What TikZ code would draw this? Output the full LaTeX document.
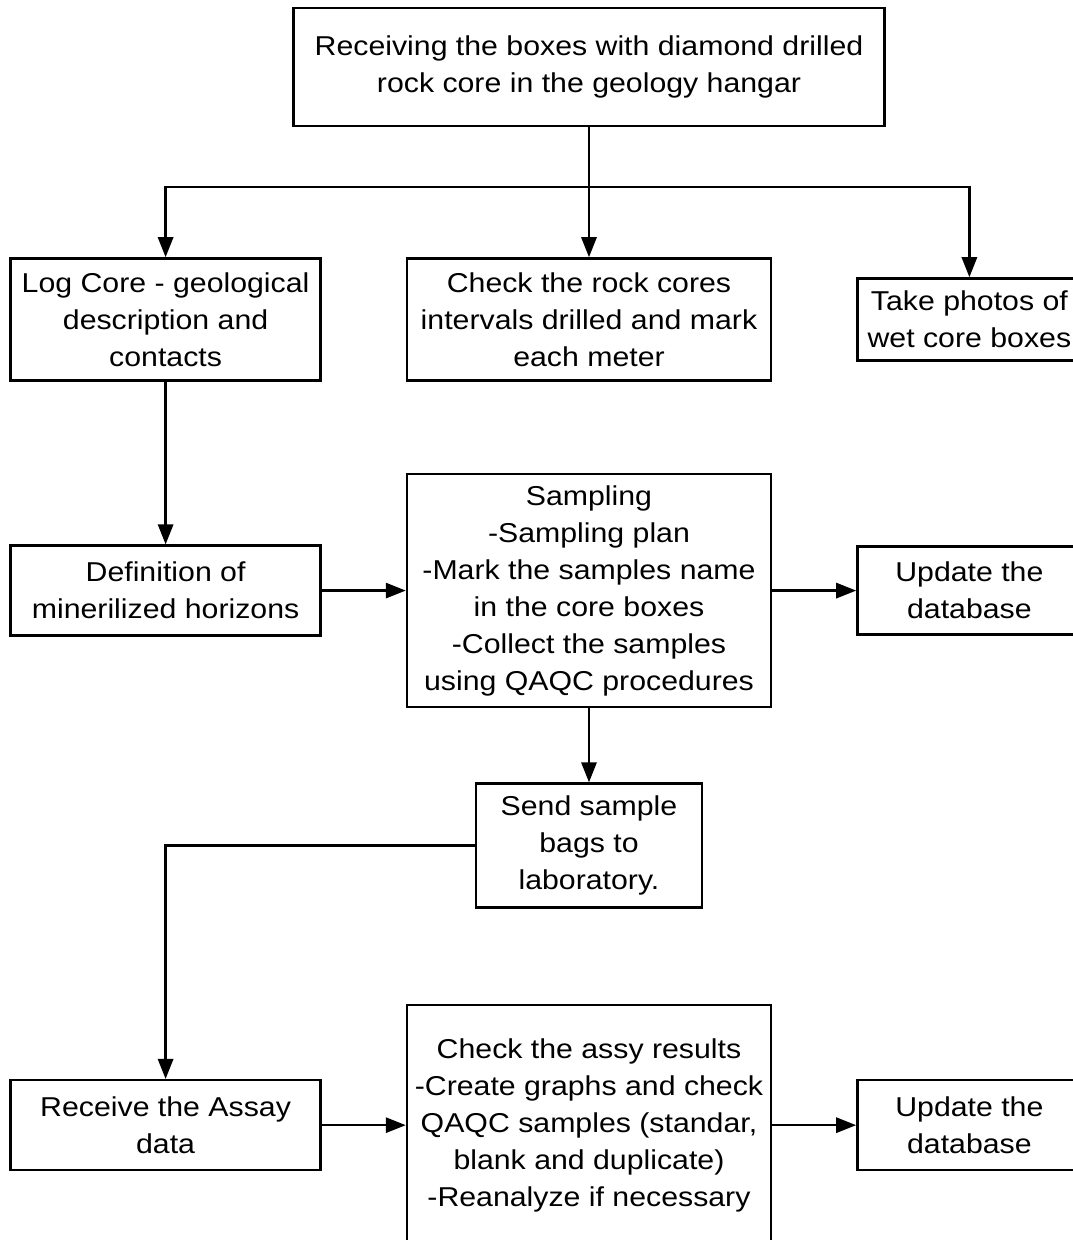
\documentclass[tikz,border=0pt]{standalone}
\usepackage{fontspec}
\setmainfont{Liberation Sans}[FakeStretch=1.11]
\usetikzlibrary{positioning, arrows.meta}

\begin{document}
\begin{tikzpicture}[
    node distance=2.1cm,
    box/.style={draw, line width=1.7pt, minimum width=9.1cm, minimum height=3.05cm, align=center, font=\fontsize{19.4pt}{26.3pt}\selectfont},
    arr/.style={-{Triangle[length=0.5cm,width=0.38cm]}, line width=1.7pt}]
    \useasboundingbox (-14.725,1.675) rectangle (12.1,-29.325);
    \node[box, minimum width=14.78cm, minimum height=2.95cm] (recv) {Receiving the boxes with diamond drilled\\rock core in the geology hangar};
    \node[box, below=3.25cm of recv]                           (chk)   {Check the rock cores\\intervals drilled and mark\\each meter};
    \node[box, left=of chk, minimum width=7.75cm]              (logc)  {Log Core - geological\\description and\\contacts};
    \node[box, right=of chk, minimum width=5.6cm, minimum height=2.05cm] (photo) {Take photos of\\wet core boxes};
    \node[box, below=2.28cm of chk, minimum height=5.83cm]     (samp)  {Sampling\\-Sampling plan\\-Mark the samples name\\in the core boxes\\-Collect the samples\\using QAQC procedures};
    \node[box, left=of samp, minimum width=7.75cm, minimum height=2.25cm]  (defn) {Definition of\\minerilized horizons};
    \node[box, right=of samp, minimum width=5.6cm, minimum height=2.2cm]   (upd1) {Update the\\database};
    \node[box, below=1.85cm of samp, minimum width=5.65cm, minimum height=3.1cm] (send) {Send sample\\bags to\\laboratory.};
    \node[box, below=2.38cm of send, minimum height=6cm]       (assay) {Check the assy results\\-Create graphs and check\\QAQC samples (standar,\\blank and duplicate)\\-Reanalyze if necessary};
    \node[box, left=of assay, minimum width=7.75cm, minimum height=2.25cm] (rcva) {Receive the Assay\\data};
    \node[box, right=of assay, minimum width=5.6cm, minimum height=2.25cm] (upd2) {Update the\\database};
    \coordinate[below=1.5cm of recv] (split);
    \foreach \b in {logc,chk,photo} {
      \draw[arr] (recv.south) -- (split) -| (\b.north);
    }
    \draw[arr] (logc.south) -- (defn.north);
    \draw[arr] (defn) -- (samp);
    \draw[arr] (samp) -- (upd1);
    \draw[arr] (samp.south) -- (send.north);
    \draw[arr] (send.west) -| (rcva.north);
    \draw[arr] (rcva) -- (assay);
    \draw[arr] (assay) -- (upd2);
  \end{tikzpicture}
\end{document}
